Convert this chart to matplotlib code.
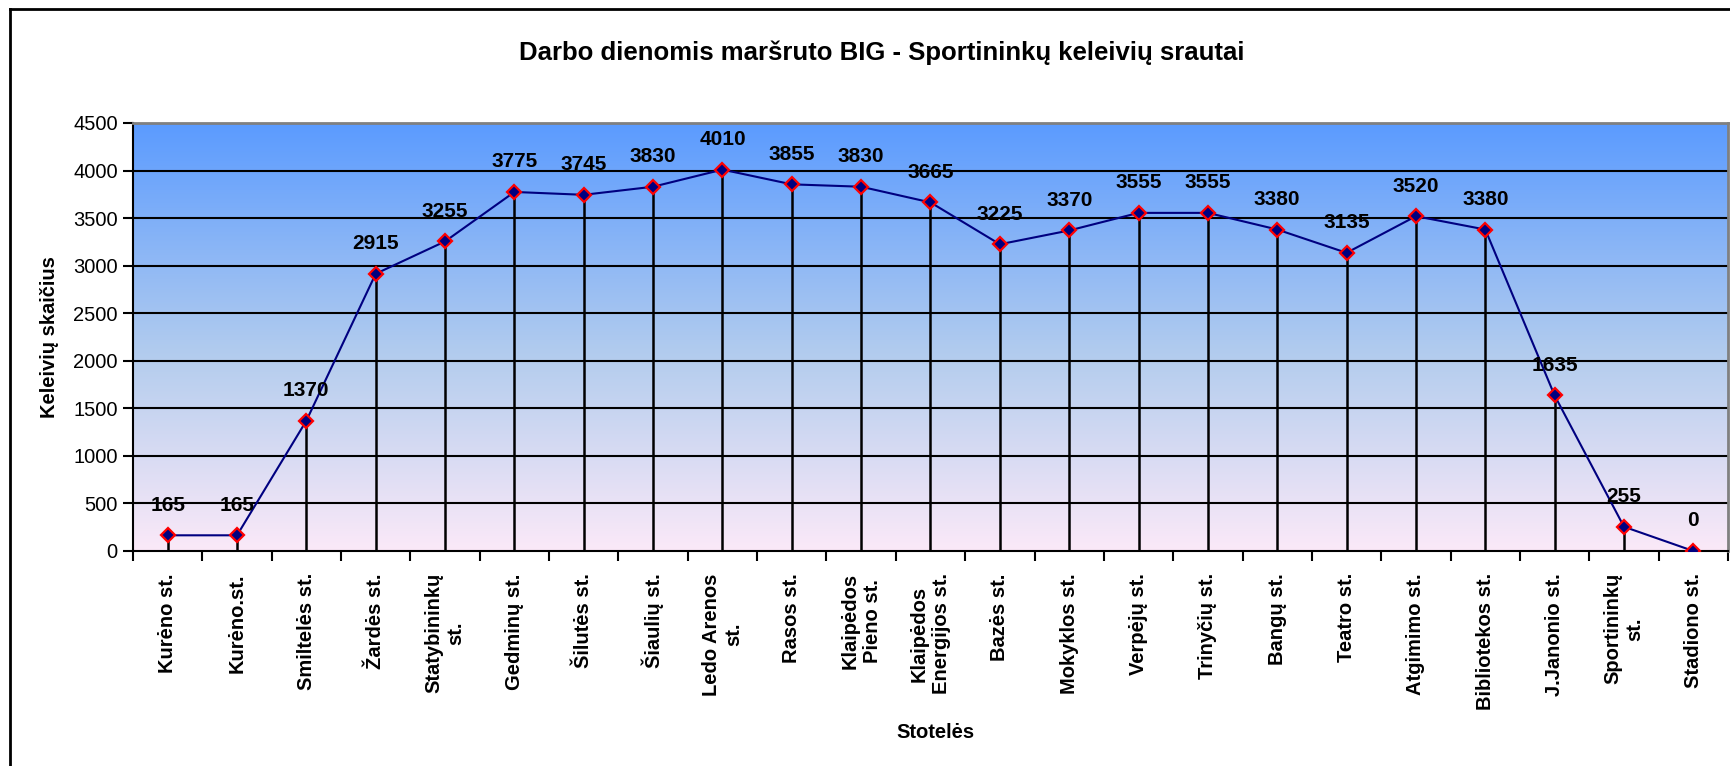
import numpy as np
import matplotlib
matplotlib.use('Agg')
import matplotlib.pyplot as plt
from matplotlib.colors import LinearSegmentedColormap
from matplotlib.lines import Line2D

plt.rcParams['font.family'] = ['Liberation Sans', 'DejaVu Sans']

stops = ['Kurėno st.', 'Kurėno.st.', 'Smiltelės st.', 'Žardės st.', 'Statybininkų\nst.',
         'Gedminų st.', 'Šilutės st.', 'Šiaulių st.', 'Ledo Arenos\nst.', 'Rasos st.',
         'Klaipėdos\nPieno st.', 'Klaipėdos\nEnergijos st.', 'Bazės st.', 'Mokyklos st.',
         'Verpėjų st.', 'Trinyčių st.', 'Bangų st.', 'Teatro st.', 'Atgimimo st.',
         'Bibliotekos st.', 'J.Janonio st.', 'Sportininkų\nst.', 'Stadiono st.']
passengers = [165, 165, 1370, 2915, 3255, 3775, 3745, 3830, 4010, 3855, 3830, 3665,
              3225, 3370, 3555, 3555, 3380, 3135, 3520, 3380, 1635, 255, 0]
yticks = [0, 500, 1000, 1500, 2000, 2500, 3000, 3500, 4000, 4500]

fig = plt.figure(figsize=(17.31, 7.66), dpi=100)
ax = fig.add_axes((133/1731, 1-551/766, (1728-133)/1731, (551-123)/766))

x = np.arange(len(stops))
ax.set_xlim(-0.5, len(stops)-0.5)
ax.set_ylim(0, 4500)

# gradient background
cmap = LinearSegmentedColormap.from_list('bg', [(0.0, '#FBE9F8'), (0.45, '#B4CDEE'), (1.0, '#5B9BFF')])
grad = np.linspace(0, 1, 256).reshape(-1, 1)
ax.imshow(grad, cmap=cmap, origin='lower', aspect='auto',
          extent=(-0.5, len(stops)-0.5, 0, 4500), zorder=0)

for yv in yticks[1:-1]:
    ax.axhline(yv, color='black', lw=1.5, zorder=1)

ax.vlines(x, 0, passengers, color='black', lw=1.8, zorder=2)
ax.plot(x, passengers, color='#000080', lw=1.5, zorder=3,
        marker='D', markersize=7.5, markerfacecolor='#000080',
        markeredgecolor='red', markeredgewidth=1.6)

for xi, v in zip(x, passengers):
    ax.annotate(str(v), (xi, v), xytext=(0, 30), textcoords='offset pixels',
                ha='center', va='center', fontsize=15, fontweight='bold', zorder=4)

ax.set_yticks(yticks)
ax.set_yticklabels([str(t) for t in yticks], fontsize=14.5)
ax.set_xticks(x)
ax.set_xticklabels(stops, rotation=90, fontsize=14.5, fontweight='bold',
                   va='top', ha='center', multialignment='center')
ax.set_xticks(np.arange(-0.5, len(stops)), minor=True)
ax.tick_params(axis='x', which='major', length=0, pad=16)
ax.tick_params(axis='x', which='minor', length=7, width=1.5, direction='out')
ax.tick_params(axis='y', length=7, width=1.5, direction='out', pad=4)

for s in ['left', 'bottom']:
    ax.spines[s].set_color('black')
    ax.spines[s].set_linewidth(1.5)
for s in ['top', 'right']:
    ax.spines[s].set_color('#808080')
    ax.spines[s].set_linewidth(2)

fig.text(50/1731, 1-337/766, 'Keleivių skaičius', rotation=90, ha='center', va='center',
         fontsize=14.5, fontweight='bold')
fig.text(935/1731, 1-732/766, 'Stotelės', ha='center', va='center',
         fontsize=14.5, fontweight='bold')
fig.text(882/1731, 1-53/766, 'Darbo dienomis maršruto BIG - Sportininkų keleivių srautai',
         ha='center', va='center', fontsize=18.5, fontweight='bold')

# outer chart frame
fig.add_artist(Line2D([10/1731, 10/1731], [0, 1-9/766], transform=fig.transFigure, color='black', lw=2))
fig.add_artist(Line2D([10/1731, 1], [1-9/766, 1-9/766], transform=fig.transFigure, color='black', lw=2))

fig.savefig('out.png', dpi=100)
